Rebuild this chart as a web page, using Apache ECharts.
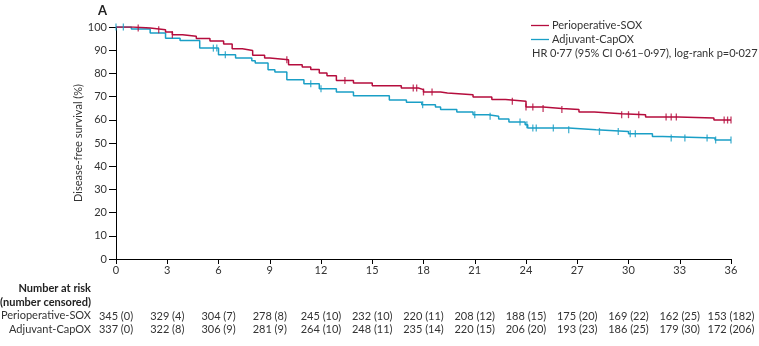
<!DOCTYPE html>
<html>
<head>
<meta charset="utf-8">
<script src="https://cdn.jsdelivr.net/npm/echarts@6/dist/echarts.min.js"></script>
<style>
html,body{margin:0;padding:0;background:#fff;}
#chart{width:759px;height:346px;}
</style>
</head>
<body>
<div id="chart"></div>
<script>
// ---- Data ----
var seriesNames = ['Perioperative-SOX', 'Adjuvant-CapOX'];
var xTicks = [0, 3, 6, 9, 12, 15, 18, 21, 24, 27, 30, 33, 36];

// Kaplan-Meier steps [month, survival %]
var soxSteps = [
  [0,100],[1.0,99.6],[2.0,98.8],[2.9,97.8],[3.3,96.7],[3.9,96.0],[4.7,95.0],[5.5,94.0],
  [6.3,92.7],[6.8,90.6],[7.4,89.9],[8.0,87.8],[8.7,86.6],[9.0,85.9],[10.1,83.7],[10.9,82.8],
  [11.4,81.7],[11.9,80.2],[12.35,79.0],[12.9,76.9],[13.9,75.9],[15.0,74.7],[16.7,73.7],
  [17.7,73.0],[18.0,72.0],[19.0,71.6],[19.4,70.8],[20.9,69.8],[22.0,68.7],[22.8,68.0],
  [24.0,65.5],[25.0,64.9],[26.1,64.4],[27.1,63.4],[28.0,62.6],[29.6,62.2],[31.0,61.2],
  [32.9,60.8],[35.0,59.9],[36.0,59.9]
];
var capoxSteps = [
  [0,100],[0.9,99.1],[2.0,97.4],[2.9,95.2],[3.75,94.2],[4.9,90.9],[6.0,88.0],[7.0,86.6],
  [7.95,85.5],[8.15,84.5],[8.9,81.6],[9.3,80.6],[10.0,77.3],[11.0,75.5],[11.9,73.4],
  [12.9,72.0],[13.9,70.4],[16.0,68.5],[17.0,67.6],[17.9,66.5],[18.7,65.5],[19.0,64.4],
  [19.95,63.4],[20.9,62.2],[21.8,61.5],[22.4,60.3],[23.0,59.1],[23.95,57.9],[24.1,56.5],
  [26.5,55.7],[28.1,55.0],[30.0,54.0],[31.4,52.8],[32.0,52.2],[35.07,51.3],[36.0,51.3]
];
// censoring times (months)
var soxCensor = [1.3,2.5,3.3,10.0,13.4,17.4,17.6,18.0,18.5,23.2,24.0,24.4,25.0,26.1,29.6,30.0,30.6,32.2,32.5,32.8,35.6,35.8,36.0];
var capoxCensor = [0,0.43,5.7,5.9,6.4,11.4,12.0,17.95,21.0,21.9,23.65,24.05,24.4,24.6,25.6,26.5,28.3,29.4,30.1,30.4,32.5,33.3,34.6,35.1,36.0];

// number at risk (number censored)
var riskSox = ['345 (0)','329 (4)','304 (7)','278 (8)','245 (10)','232 (10)','220 (11)','208 (12)','188 (15)','175 (20)','169 (22)','162 (25)','153 (182)'];
var riskCapox = ['337 (0)','322 (8)','306 (9)','281 (9)','264 (10)','248 (11)','235 (14)','220 (15)','206 (20)','193 (23)','186 (25)','179 (30)','172 (206)'];

var hrText = 'HR 0·77 (95% CI 0·61–0·97), log-rank p=0·027';

// ---- Build ----
var RED = '#b50d3d', BLUE = '#1a9fc6', TXT = '#333';
var FONT = 'Lato, sans-serif';
var FS = 11;

function survAt(steps, t) {
  var v = steps[0][1];
  for (var i = 0; i < steps.length; i++) { if (steps[i][0] <= t) v = steps[i][1]; }
  return v;
}
function censorPts(steps, times) { return times.map(function (t) { return [t, survAt(steps, t)]; }); }

var chart = echarts.init(document.getElementById('chart'));
var baseX = {
  type: 'value', min: 0, max: 36, interval: 3, gridIndex: 0,
  splitLine: { show: false }
};
function riskAxis(arr, offset) {
  return Object.assign({}, baseX, {
    position: 'bottom', offset: offset,
    axisLine: { show: false }, axisTick: { show: false },
    axisLabel: { margin: 6, fontSize: FS, color: TXT, fontFamily: FONT,
      formatter: function (v) { return arr[Math.round(v / 3)]; } }
  });
}
chart.setOption({
  animation: false,
  textStyle: { fontFamily: FONT },
  grid: { left: 116, right: 28, top: 27, bottom: 87, containLabel: false },
  legend: {
    data: seriesNames, orient: 'vertical', left: 531, top: 19, padding: 0,
    icon: 'rect', itemWidth: 18, itemHeight: 1.3, itemGap: 1,
    textStyle: { fontSize: FS, color: TXT, fontFamily: FONT, lineHeight: 13, padding: [0, 0, 0, -2] }
  },
  xAxis: [
    Object.assign({}, baseX, {
      axisLine: { lineStyle: { color: '#000', width: 1 } },
      axisTick: { show: true, length: 5, lineStyle: { color: '#000' } },
      axisLabel: { margin: 6, fontSize: FS, color: TXT, fontFamily: FONT,
        formatter: function (v) { return xTicks.indexOf(v) >= 0 ? String(v) : ''; } }
    }),
    riskAxis(riskSox, 46),
    riskAxis(riskCapox, 59)
  ],
  yAxis: {
    type: 'value', min: 0, max: 100, interval: 10,
    name: 'Disease-free survival (%)', nameLocation: 'middle', nameGap: 32, nameMoveOverlap: false,
    nameTextStyle: { fontSize: FS, color: TXT, fontFamily: FONT },
    axisLine: { show: true, lineStyle: { color: '#000', width: 1 } },
    axisTick: { show: true, length: 7, lineStyle: { color: '#000' } },
    axisLabel: { margin: 9, fontSize: FS, color: TXT, fontFamily: FONT },
    splitLine: { show: false }
  },
  graphic: [
    { type: 'text', x: 98, y: 4, style: { text: 'A', font: 'bold 13px ' + FONT, fill: '#222' } },
    { type: 'text', x: 532, y: 48, style: { text: hrText, font: FS + 'px ' + FONT, fill: TXT } },
    { type: 'text', x: 91, y: 283, style: { text: 'Number at risk', font: 'bold ' + FS + 'px ' + FONT, fill: '#222', align: 'right' } },
    { type: 'text', x: 91, y: 297, style: { text: '(number censored)', font: 'bold ' + FS + 'px ' + FONT, fill: '#222', align: 'right' } },
    { type: 'text', x: 91, y: 310, style: { text: seriesNames[0], font: FS + 'px ' + FONT, fill: TXT, align: 'right' } },
    { type: 'text', x: 91, y: 324, style: { text: seriesNames[1], font: FS + 'px ' + FONT, fill: TXT, align: 'right' } }
  ],
  series: [
    { name: seriesNames[0], type: 'line', step: 'end', data: soxSteps, symbol: 'none',
      lineStyle: { color: RED, width: 1.5 }, itemStyle: { color: RED }, z: 3 },
    { name: seriesNames[1], type: 'line', step: 'end', data: capoxSteps, symbol: 'none',
      lineStyle: { color: BLUE, width: 1.5 }, itemStyle: { color: BLUE }, z: 2 },
    { name: 'soxCensor', type: 'scatter', data: censorPts(soxSteps, soxCensor), symbol: 'rect',
      symbolSize: [1.3, 7], itemStyle: { color: RED }, z: 4 },
    { name: 'capoxCensor', type: 'scatter', data: censorPts(capoxSteps, capoxCensor), symbol: 'rect',
      symbolSize: [1.3, 7], itemStyle: { color: BLUE }, z: 4 }
  ]
});
</script>
</body>
</html>
